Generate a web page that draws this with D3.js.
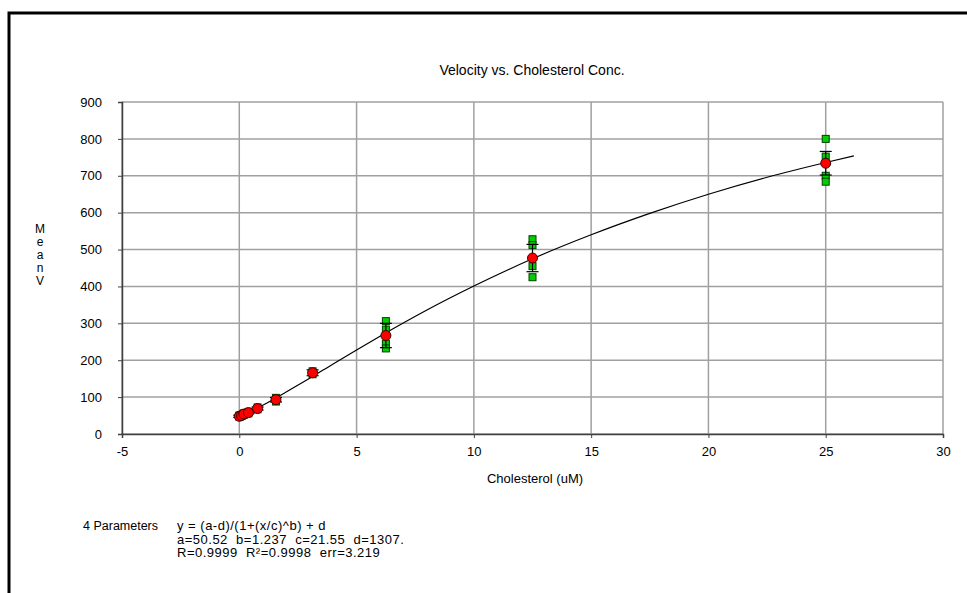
<!DOCTYPE html>
<html>
<head>
<meta charset="utf-8">
<script src="https://cdnjs.cloudflare.com/ajax/libs/d3/7.8.5/d3.min.js"></script>
<style>
  body { margin: 0; background: #fff; }
  svg text { font-family: "Liberation Sans", Arial, sans-serif; fill: #000; white-space: pre; }
</style>
</head>
<body>
<div id="chart"></div>
<script>
// concentrations (uM) and the replicate readings at each one
var conc = [0, 0.0977, 0.195, 0.39, 0.78, 1.5625, 3.125, 6.25, 12.5, 25];
var replicates = [
  [50, 47],
  [52, 49],
  [56, 52],
  [60, 56],
  [72, 67],
  [98, 88],
  [170, 162],
  [306, 283, 245, 232],
  [528, 512, 455, 425],
  [800, 752, 700, 684]
];
var means = [48, 50, 54, 58, 69, 93, 166, 267, 477, 734];
var errs = [3, 3, 3, 3, 4, 6, 8, 33, 37, 32];

// fitted curve
var curveX = [0, 0.5, 1, 2, 3, 4, 5, 6, 8, 10, 12.5, 15, 17.5, 20, 22.5, 25, 26.2];
var curveY = [50.5, 62, 78, 114, 151, 190, 228, 265, 336, 401, 475, 540, 598, 650, 696, 736, 754];

var xTicks = [-5, 0, 5, 10, 15, 20, 25, 30];
var yTicks = [0, 100, 200, 300, 400, 500, 600, 700, 800, 900];

var title = "Velocity vs. Cholesterol Conc.";
var xLabel = "Cholesterol (uM)";
var yLabel = ["M", "e", "a", "n", "V"];
var fitText = [
  "y = (a-d)/(1+(x/c)^b) + d",
  "a=50.52  b=1.237  c=21.55  d=1307.",
  "R=0.9999  R\u00b2=0.9998  err=3.219"
];

var width = 967, height = 593;
var svg = d3.select("#chart").append("svg")
  .attr("width", width)
  .attr("height", height);

// outer frame (only left and top edges are visible)
svg.append("path")
  .attr("d", "M9,593 V13 H967")
  .attr("fill", "none")
  .attr("stroke", "#000")
  .attr("stroke-width", 3);

var x = d3.scaleLinear().domain([-5, 30]).range([122, 943]);
var y = d3.scaleLinear().domain([0, 900]).range([434, 102]);

// grid
svg.append("g").selectAll("line")
  .data(xTicks)
  .enter().append("line")
  .attr("x1", d => x(d)).attr("x2", d => x(d))
  .attr("y1", y(900)).attr("y2", y(0))
  .attr("stroke", "#a0a0a0").attr("stroke-width", 1.5);
svg.append("g").selectAll("line")
  .data(yTicks)
  .enter().append("line")
  .attr("x1", x(-5)).attr("x2", x(30))
  .attr("y1", d => y(d)).attr("y2", d => y(d))
  .attr("stroke", "#a0a0a0").attr("stroke-width", 1.5);

// axes
var xAxis = d3.axisBottom(x).tickValues(xTicks).tickSize(4).tickPadding(9)
  .tickFormat(d => String(d));
var yAxis = d3.axisLeft(y).tickValues(yTicks).tickSize(4).tickPadding(16)
  .tickFormat(d => String(d));

var gx = svg.append("g").attr("transform", "translate(0," + y(0) + ")").call(xAxis);
var gy = svg.append("g").attr("transform", "translate(" + x(-5) + ",0)").call(yAxis);
[gx, gy].forEach(function (g) {
  g.select(".domain").attr("stroke", "#404040").attr("stroke-width", 1.5);
  g.selectAll(".tick line").attr("stroke", "#404040");
  g.selectAll("text").attr("font-size", "13px").attr("font-family", "Liberation Sans, Arial, sans-serif");
});

// fitted curve
var line = d3.line()
  .x((d, i) => x(curveX[i]))
  .y(d => y(d))
  .curve(d3.curveMonotoneX);
svg.append("path")
  .datum(curveY)
  .attr("d", line)
  .attr("fill", "none")
  .attr("stroke", "#000")
  .attr("stroke-width", 1.2);

// replicate squares
var reps = [];
conc.forEach(function (c, i) {
  replicates[i].forEach(function (v) { reps.push({ c: c, v: v }); });
});
svg.append("g").selectAll("rect")
  .data(reps)
  .enter().append("rect")
  .attr("x", d => x(d.c) - 3.5)
  .attr("y", d => y(d.v) - 3.5)
  .attr("width", 7).attr("height", 7)
  .attr("fill", "#00d000")
  .attr("stroke", "#004000")
  .attr("stroke-width", 1);

// error bars
var eb = svg.append("g").selectAll("g")
  .data(conc)
  .enter().append("g")
  .attr("stroke", "#000")
  .attr("stroke-width", 1.2);
eb.append("line")
  .attr("x1", d => x(d)).attr("x2", d => x(d))
  .attr("y1", (d, i) => y(means[i] + errs[i]))
  .attr("y2", (d, i) => y(means[i] - errs[i]));
eb.append("line")
  .attr("x1", d => x(d) - 6).attr("x2", d => x(d) + 6)
  .attr("y1", (d, i) => y(means[i] + errs[i]))
  .attr("y2", (d, i) => y(means[i] + errs[i]));
eb.append("line")
  .attr("x1", d => x(d) - 6).attr("x2", d => x(d) + 6)
  .attr("y1", (d, i) => y(means[i] - errs[i]))
  .attr("y2", (d, i) => y(means[i] - errs[i]));

// means
svg.append("g").selectAll("circle")
  .data(conc)
  .enter().append("circle")
  .attr("cx", d => x(d))
  .attr("cy", (d, i) => y(means[i]))
  .attr("r", 5)
  .attr("fill", "#ff0000")
  .attr("stroke", "#400000")
  .attr("stroke-width", 1);

// titles
svg.append("text")
  .attr("x", 532).attr("y", 75)
  .attr("text-anchor", "middle")
  .attr("font-size", "14px")
  .text(title);
svg.append("text")
  .attr("x", 535).attr("y", 483)
  .attr("text-anchor", "middle")
  .attr("font-size", "13px")
  .text(xLabel);
svg.append("g").selectAll("text")
  .data(yLabel)
  .enter().append("text")
  .attr("x", 40)
  .attr("y", (d, i) => 233 + i * 13)
  .attr("text-anchor", "middle")
  .attr("font-size", "12px")
  .text(d => d);

// fit parameters
svg.append("text")
  .attr("x", 83).attr("y", 530)
  .attr("font-size", "12.5px")
  .text("4 Parameters");
svg.append("g").selectAll("text")
  .data(fitText)
  .enter().append("text")
  .attr("x", 177)
  .attr("y", (d, i) => 530 + i * 13.5)
  .attr("font-size", "13px")
  .attr("letter-spacing", "0.5px")
  .text(d => d);
</script>
</body>
</html>
